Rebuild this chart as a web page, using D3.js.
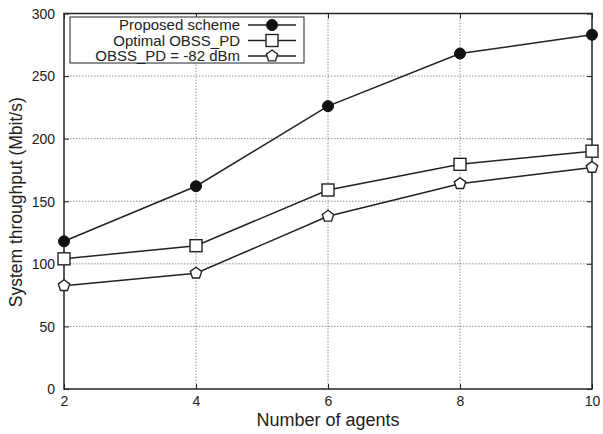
<!DOCTYPE html>
<html>
<head>
<meta charset="utf-8">
<script src="https://cdn.jsdelivr.net/npm/d3@7"></script>
<style>
  body { margin: 0; background: #fff; }
  text { font-family: "Liberation Sans", Arial, sans-serif; fill: #222; }
</style>
</head>
<body>
<svg id="chart" width="603" height="434"></svg>
<script>
const agents = [2, 4, 6, 8, 10]
const proposed = [118, 162, 226, 268, 283]
const optimal = [104, 114.5, 159, 179.5, 190]
const fixed82 = [82.5, 92.5, 138, 164, 177]
const seriesNames = ["Proposed scheme", "Optimal OBSS_PD", "OBSS_PD = -82 dBm"]
const yTicks = [0, 50, 100, 150, 200, 250, 300]
const xTicks = [2, 4, 6, 8, 10]

const margin = {top: 13.5, right: 11, bottom: 45, left: 64}
const width = 603 - margin.left - margin.right
const height = 434 - margin.top - margin.bottom

const svg = d3.select("#chart")
const g = svg.append("g")
    .attr("transform", "translate(" + margin.left + "," + margin.top + ")")

const x = d3.scaleLinear().domain([2, 10]).range([0, width])
const y = d3.scaleLinear().domain([0, 300]).range([height, 0])

// grid
g.append("g").selectAll("line")
    .data(yTicks.slice(1, -1))
    .enter().append("line")
    .attr("x1", 0).attr("x2", width)
    .attr("y1", d => y(d)).attr("y2", d => y(d))
    .attr("stroke", "#777").attr("stroke-width", 0.8)
    .attr("stroke-dasharray", "1.5,1.5")
g.append("g").selectAll("line")
    .data(xTicks.slice(1, -1))
    .enter().append("line")
    .attr("y1", 0).attr("y2", height)
    .attr("x1", d => x(d)).attr("x2", d => x(d))
    .attr("stroke", "#777").attr("stroke-width", 0.8)
    .attr("stroke-dasharray", "1.5,1.5")

// axes with inward ticks
const axisB = g.append("g").attr("transform", "translate(0," + height + ")")
    .call(d3.axisBottom(x).tickValues(xTicks).tickSizeInner(-5).tickSizeOuter(0).tickPadding(7))
const axisL = g.append("g")
    .call(d3.axisLeft(y).tickValues(yTicks).tickSizeInner(-5).tickSizeOuter(0).tickPadding(9))
const axisT = g.append("g")
    .call(d3.axisTop(x).tickValues(xTicks).tickSizeInner(-5).tickSizeOuter(0).tickFormat(""))
const axisR = g.append("g").attr("transform", "translate(" + width + ",0)")
    .call(d3.axisRight(y).tickValues(yTicks).tickSizeInner(-5).tickSizeOuter(0).tickFormat(""))
;[axisB, axisL, axisT, axisR].forEach(a => {
    a.select(".domain").remove()
    a.selectAll("line").attr("stroke", "#222").attr("stroke-width", 1)
    a.selectAll("text").style("font-size", "14px").attr("fill", "#222")
})
axisL.selectAll("text").attr("dy", "0.35em")

g.append("rect")
    .attr("width", width).attr("height", height)
    .attr("fill", "none").attr("stroke", "#222").attr("stroke-width", 1.5)

// axis titles
svg.append("text")
    .attr("x", margin.left + width / 2).attr("y", 426)
    .attr("text-anchor", "middle").style("font-size", "18px")
    .text("Number of agents")
svg.append("text")
    .attr("transform", "translate(22," + (margin.top + height / 2 + 1) + ") rotate(-90)")
    .attr("text-anchor", "middle").style("font-size", "17.5px")
    .text("System throughput (Mbit/s)")

// markers
const pentagon = d3.symbol().type({
    draw(ctx, size) {
        const r = Math.sqrt(size / 2.3776)
        for (let i = 0; i < 5; i++) {
            const a = -Math.PI / 2 + i * 2 * Math.PI / 5
            const px = r * Math.cos(a), py = r * Math.sin(a)
            if (i === 0) ctx.moveTo(px, py); else ctx.lineTo(px, py)
        }
        ctx.closePath()
    }
}).size(85)

function drawMarker(sel, kind) {
    if (kind === 0) {
        sel.append("circle").attr("r", 5.5).attr("fill", "#111").attr("stroke", "#111")
    } else if (kind === 1) {
        sel.append("rect").attr("x", -6).attr("y", -6).attr("width", 12).attr("height", 12)
            .attr("fill", "#fff").attr("stroke", "#222").attr("stroke-width", 1.4)
    } else {
        sel.append("path").attr("d", pentagon)
            .attr("fill", "#fff").attr("stroke", "#222").attr("stroke-width", 1.4)
    }
}

const allSeries = [proposed, optimal, fixed82]
const line = d3.line().x((d, i) => x(agents[i])).y(d => y(d))

allSeries.forEach((vals, k) => {
    g.append("path").datum(vals)
        .attr("d", line).attr("fill", "none")
        .attr("stroke", "#222").attr("stroke-width", 1.5)
    g.selectAll(".m" + k).data(vals).enter().append("g")
        .attr("class", "m" + k)
        .attr("transform", (d, i) => "translate(" + x(agents[i]) + "," + y(d) + ")")
        .each(function () { drawMarker(d3.select(this), k) })
})

// legend
const leg = g.append("g").attr("transform", "translate(6,3.5)")
leg.append("rect").attr("width", 234).attr("height", 46)
    .attr("fill", "#fff").attr("stroke", "#222").attr("stroke-width", 1)
seriesNames.forEach((name, k) => {
    const ly = 8 + k * 15.5
    leg.append("text").attr("x", 170).attr("y", ly).attr("dy", "0.35em")
        .attr("text-anchor", "end").style("font-size", "15px").text(name)
    leg.append("line").attr("x1", 178).attr("x2", 226).attr("y1", ly).attr("y2", ly)
        .attr("stroke", "#222").attr("stroke-width", 1.5)
    drawMarker(leg.append("g").attr("transform", "translate(202," + ly + ")"), k)
})
</script>
</body>
</html>
